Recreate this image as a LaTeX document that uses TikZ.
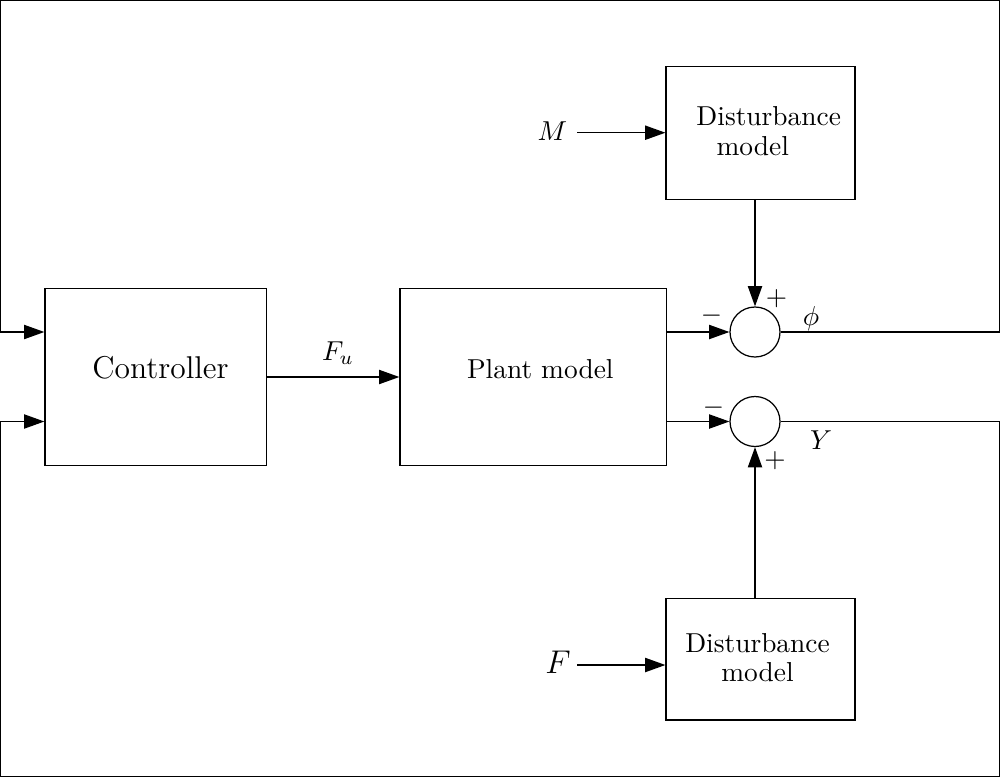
\documentclass[tikz,border=0pt]{standalone}
\usetikzlibrary{arrows.meta}
\begin{document}
\begin{tikzpicture}[x=0.365pt,y=-0.365pt,
  line width=0.45pt,
  blockbox/.style={draw,rectangle,inner sep=0pt},
  sumnode/.style={draw,circle,inner sep=0pt,minimum size={50*0.365pt}},
  txt/.style={inner sep=0pt,anchor=base},
  sgn/.style={inner sep=0pt,anchor=center},
  arr/.style={-{Triangle[length=7.4pt,width=5.2pt]}}]
\useasboundingbox (0,0) rectangle (1000,777);
% blocks
\node[blockbox,minimum width={221.7*0.365pt},minimum height={177.4*0.365pt}] (ctrl) at (155.8,377) {};
\node[blockbox,minimum width={266.7*0.365pt},minimum height={177.4*0.365pt}] (plant) at (533.3,377) {};
\node[blockbox,minimum width={189*0.365pt},minimum height={132.6*0.365pt}] (dtop) at (760.5,133) {};
\node[blockbox,minimum width={189*0.365pt},minimum height={121.7*0.365pt}] (dbot) at (760.5,659.2) {};
% texts
\node[txt,font=\fontsize{11.5pt}{14pt}\selectfont] (tctrl) at (160.5,378.3) {Controller};
\node[txt] (tplant) at (540.3,378.3) {Plant model};
\node[txt] (tdt1) at (768.7,125) {Disturbance};
\node[txt] (tdt2) at (752.8,155) {model};
\node[txt] (tdb1) at (757.5,652.7) {Disturbance};
\node[txt] (tdb2) at (757.5,681.7) {model};
% sums
\node[sumnode] (s1) at (755,332) {};
\node[sumnode] (s2) at (755,421.5) {};
% signs
\node[sgn] (m1) at (711.5,316) {$-$};
\node[sgn] (p1) at (776.5,298.5) {$+$};
\node[sgn] (m2) at (713.5,407.7) {$-$};
\node[sgn] (p2) at (775,461) {$+$};
% labels
\node[txt] (lfu) at (338,360) {$F_u$};
\node[txt] (lm) at (552.5,140.7) {$M$};
\node[txt,font=\large] (lf) at (558,673.3) {$F$};
\node[txt] (lphi) at (811,325) {$\phi$};
\node[txt] (ly) at (821,449) {$Y$};
% frame coordinates
\coordinate (tl) at (0.8,0.8);
\coordinate (tr) at (999.2,0.8);
\coordinate (bl) at (0.8,776.2);
\coordinate (br) at (999.2,776.2);
\coordinate (mstart) at (577.3,132.7);
\coordinate (fstart) at (577.3,665);
% connectors
\draw[arr] (ctrl.east) -- (plant.west);
\draw[arr] (plant.east |- s1) -- (s1.west);
\draw[arr] (plant.east |- s2) -- (s2.west);
\draw[arr] (s1.north |- dtop.south) -- (s1.north);
\draw[arr] (s2.south |- dbot.north) -- (s2.south);
\draw[arr] (mstart) -- (dtop.west |- mstart);
\draw[arr] (fstart) -- (dbot.west |- fstart);
\draw[arr] (s1.east) -- (tr |- s1) -- (tr) -- (tl) -- (tl |- s1) -- (ctrl.west |- s1);
\draw[arr] (s2.east) -- (br |- s2) -- (br) -- (bl) -- (bl |- s2) -- (ctrl.west |- s2);
\end{tikzpicture}
\end{document}
